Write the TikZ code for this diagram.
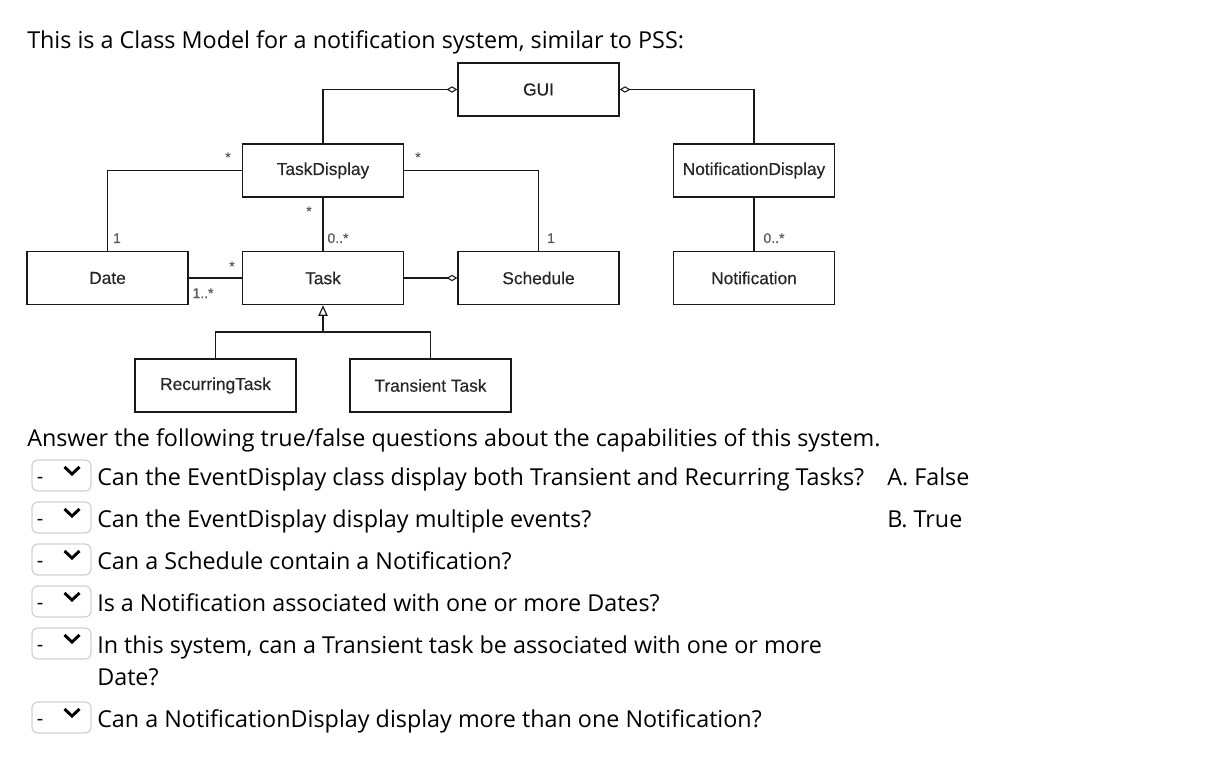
\documentclass[tikz,border=0pt]{standalone}
\usepackage{fontspec}
\setmainfont{Open Sans}
\newfontfamily\umlfont[FakeBold=0.4]{Liberation Sans}
\usetikzlibrary{arrows.meta}

\tikzset{
  classbox/.style={draw=black!90, line width=1.05pt, minimum width=120.75pt, minimum height=39.75pt,
    inner sep=0pt, text=black!85, font=\umlfont\fontsize{13}{15}\selectfont},
  mult/.style={anchor=base, inner sep=0pt, text=black!65, font=\umlfont\fontsize{10.5}{12}\selectfont},
  link/.style={draw=black!90, line width=1pt},
  agg/.style={link, -{Diamond[open, length=8pt, width=4.8pt, line width=0.8pt]}},
  inherit/.style={link, -{Triangle[open, length=8pt, width=7pt, line width=0.9pt]}},
  qtext/.style={anchor=base west, inner sep=0pt, font=\fontsize{17.5}{21}\selectfont},
  dropbox/.style={draw=black!18, line width=0.9pt, rounded corners=4.5pt, minimum width=44.25pt,
    minimum height=23.25pt, inner sep=0pt},
}

\begin{document}
\begin{tikzpicture}[x=0.75pt, y=-0.75pt]
	\useasboundingbox (0,0) rectangle (1226,784);

	% Heading
	\node[qtext] (title) at (27,49) {This is a Class Model for a notification system, similar to PSS:};

	% Classes
	\node[classbox] (GUI) at (538.5,89.5) {GUI};
	\node[classbox] (TaskDisplay) at (323,170.5) {TaskDisplay};
	\node[classbox] (NotificationDisplay) at (754,170.5) {NotificationDisplay};
	\node[classbox] (Date) at (107.5,278) {Date};
	\node[classbox] (Task) at (323,278) {Task};
	\node[classbox] (Schedule) at (538.5,278) {Schedule};
	\node[classbox] (Notification) at (754,278) {Notification};
	\node[classbox] (RecurringTask) at (215.5,385.5) {RecurringTask};
	\node[classbox] (TransientTask) at (430.5,385.5) {Transient Task};

	% Associations
	\draw[agg] (TaskDisplay.north) |- (GUI.west);
	\draw[agg] (NotificationDisplay.north) |- (GUI.east);
	\draw[link] (TaskDisplay.west) -| (Date.north);
	\draw[link] (TaskDisplay.east) -| (Schedule.north);
	\draw[link] (TaskDisplay.south) -- (Task.north);
	\draw[link] (NotificationDisplay.south) -- (Notification.north);
	\draw[link] (Date.east) -- (Task.west);
	\draw[agg] (Task.east) -- (Schedule.west);

	% Generalization
	\coordinate (split) at (323,332);
	\draw[link] (RecurringTask.north) |- (split) -| (TransientTask.north);
	\draw[inherit] (split) -- (Task.south);

	% Multiplicities
	\node[mult] (m1) at (228,162) {*};
	\node[mult] (m2) at (418,162) {*};
	\node[mult] (m3) at (309,216) {*};
	\node[mult] (m4) at (232,271) {*};
	\node[mult] (m5) at (117,243) {1};
	\node[mult] (m6) at (551,243) {1};
	\node[mult] (m7) at (338,243) {0..*};
	\node[mult] (m8) at (774,243) {0..*};
	\node[mult] (m9) at (203,298) {1..*};

	% Questions
	\node[qtext] (intro) at (27,446) {Answer the following true/false questions about the capabilities of this system.};
	\foreach \k/\yy in {1/475.5, 2/517.5, 3/559.5, 4/601.5, 5/643.5, 6/717.5} {
		\node[dropbox] (drop\k) at (61.5,\yy) {};
		\node[anchor=base, inner sep=0pt, font=\fontsize{15}{18}\selectfont] (dash\k) at ([shift={(-21.5,8)}]drop\k.center) {-};
		\draw[line width=2.2pt] ([shift={(3,-8.5)}]drop\k.center) -- ([shift={(10.5,-1.5)}]drop\k.center) -- ([shift={(18,-8.5)}]drop\k.center);
	}
	\node[qtext] (q1) at (97,485) {Can the EventDisplay class display both Transient and Recurring Tasks?};
	\node[qtext] (q2) at (97,527) {Can the EventDisplay display multiple events?};
	\node[qtext] (q3) at (97,569) {Can a Schedule contain a Notification?};
	\node[qtext] (q4) at (97,611) {Is a Notification associated with one or more Dates?};
	\node[qtext] (q5) at (97,653) {In this system, can a Transient task be associated with one or more};
	\node[qtext] (q5b) at (97,685) {Date?};
	\node[qtext] (q6) at (97,727) {Can a NotificationDisplay display more than one Notification?};

	% Options
	\node[qtext] (optA) at (887,485) {A. False};
	\node[qtext] (optB) at (887,527) {B. True};

\end{tikzpicture}
\end{document}
